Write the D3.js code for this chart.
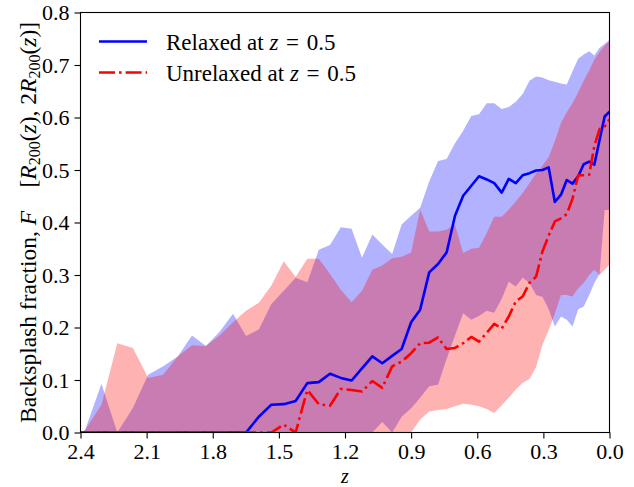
<!DOCTYPE html>
<html>
<head>
<meta charset="utf-8">
<script src="https://cdn.jsdelivr.net/npm/d3@7"></script>
<style>
  html, body { margin: 0; padding: 0; background: #fff; }
  svg { display: block; }
  text { font-family: "Liberation Serif", "Times New Roman", serif; fill: #000; }
</style>
</head>
<body>
<svg id="chart" width="634" height="487"></svg>
<script>
// Redshift grid (snapshots)
const zValues = [2.4, 2.379, 2.305, 2.233, 2.162, 2.093, 2.025, 1.959, 1.894, 1.831, 1.769, 1.708, 1.649, 1.591, 1.534, 1.478, 1.424, 1.371, 1.319, 1.268, 1.219, 1.170, 1.123, 1.076, 1.031, 0.986, 0.943, 0.900, 0.859, 0.818, 0.778, 0.739, 0.701, 0.664, 0.627, 0.592, 0.557, 0.523, 0.489, 0.457, 0.425, 0.394, 0.363, 0.333, 0.304, 0.276, 0.248, 0.220, 0.194, 0.168, 0.142, 0.117, 0.092, 0.069, 0.045, 0.022, 0.0];

// Relaxed at z = 0.5: median line and band
const relaxedMedian = [0, 0, 0, 0, 0, 0, 0, 0, 0, 0, 0, 0, 0, 0.030, 0.053, 0.054, 0.060, 0.094, 0.096, 0.112, 0.104, 0.099, 0.122, 0.145, 0.132, 0.146, 0.159, 0.210, 0.234, 0.305, 0.321, 0.343, 0.413, 0.451, 0.470, 0.488, 0.482, 0.475, 0.457, 0.483, 0.475, 0.490, 0.494, 0.499, 0.500, 0.505, 0.439, 0.453, 0.481, 0.474, 0.488, 0.511, 0.516, 0.510, 0.557, 0.602, 0.611];
const relaxedUpper = [0, 0.005, 0.093, 0.0, 0.047, 0.110, 0.126, 0.145, 0.185, 0.165, 0.192, 0.226, 0.184, 0.196, 0.245, 0.270, 0.295, 0.286, 0.348, 0.357, 0.391, 0.388, 0.333, 0.377, 0.358, 0.340, 0.396, 0.413, 0.428, 0.478, 0.517, 0.521, 0.551, 0.575, 0.603, 0.606, 0.627, 0.627, 0.616, 0.620, 0.630, 0.645, 0.670, 0.678, 0.676, 0.671, 0.668, 0.665, 0.663, 0.688, 0.712, 0.720, 0.726, 0.718, 0.733, 0.740, 0.748];
const relaxedLower = [0, 0, 0, 0, 0, 0, 0, 0, 0, 0, 0, 0, 0, 0, 0, 0, 0, 0, 0, 0, 0, 0, 0, 0.0, 0.020, 0.0, 0.030, 0.046, 0.066, 0.088, 0.091, 0.140, 0.185, 0.227, 0.215, 0.222, 0.232, 0.228, 0.255, 0.287, 0.278, 0.295, 0.285, 0.262, 0.258, 0.235, 0.202, 0.221, 0.215, 0.202, 0.235, 0.240, 0.262, 0.285, 0.302, 0.424, 0.424];

// Unrelaxed at z = 0.5: median line and band
const unrelaxedMedian = [0, 0, 0, 0, 0, 0, 0, 0, 0, 0, 0, 0, 0, 0, 0, 0.015, 0, 0.081, 0.054, 0.051, 0.083, 0.081, 0.078, 0.098, 0.085, 0.126, 0.135, 0.151, 0.170, 0.171, 0.181, 0.159, 0.161, 0.170, 0.182, 0.173, 0.190, 0.207, 0.198, 0.221, 0.250, 0.259, 0.285, 0.297, 0.345, 0.375, 0.402, 0.408, 0.416, 0.445, 0.490, 0.490, 0.491, 0.545, 0.578, 0.583, 0.596];
const unrelaxedUpper = [0, 0.005, 0.053, 0.170, 0.161, 0.104, 0.110, 0.145, 0.166, 0.165, 0.185, 0.210, 0.232, 0.247, 0.280, 0.326, 0.296, 0.331, 0.331, 0.302, 0.272, 0.248, 0.270, 0.310, 0.318, 0.332, 0.335, 0.343, 0.425, 0.383, 0.383, 0.386, 0.396, 0.342, 0.350, 0.352, 0.380, 0.411, 0.411, 0.425, 0.440, 0.456, 0.475, 0.494, 0.508, 0.525, 0.555, 0.590, 0.610, 0.627, 0.648, 0.670, 0.690, 0.710, 0.725, 0.737, 0.745];
const unrelaxedLower = [0, 0, 0, 0, 0, 0, 0, 0, 0, 0, 0, 0, 0, 0, 0, 0, 0, 0, 0, 0, 0, 0, 0, 0, 0, 0, 0, 0.0, 0.025, 0.040, 0.043, 0.045, 0.050, 0.055, 0.053, 0.050, 0.045, 0.037, 0.052, 0.066, 0.082, 0.095, 0.102, 0.125, 0.167, 0.195, 0.226, 0.262, 0.262, 0.259, 0.275, 0.285, 0.300, 0.310, 0.300, 0.310, 0.320];

const xTicks = [2.4, 2.1, 1.8, 1.5, 1.2, 0.9, 0.6, 0.3, 0.0];
const yTicks = [0.0, 0.1, 0.2, 0.3, 0.4, 0.5, 0.6, 0.7, 0.8];
const legendLabels = ["Relaxed at ", "Unrelaxed at "];

const margin = {left: 80.5, top: 12.5, right: 24.5, bottom: 54.5};
const W = 634, H = 487;
const iw = W - margin.left - margin.right;
const ih = H - margin.top - margin.bottom;

const svg = d3.select("#chart");
const g = svg.append("g").attr("transform", `translate(${margin.left},${margin.top})`);

const x = d3.scaleLinear().domain([2.4, 0.0]).range([0, iw]);
const y = d3.scaleLinear().domain([0, 0.8]).range([ih, 0]);

g.append("clipPath").attr("id", "clip").append("rect").attr("width", iw).attr("height", ih);
const plot = g.append("g").attr("clip-path", "url(#clip)");

const idx = d3.range(zValues.length);
const area = (lo, hi) => d3.area().x(i => x(zValues[i])).y0(i => y(lo[i])).y1(i => y(hi[i]));
const line = (v) => d3.line().x(i => x(zValues[i])).y(i => y(v[i]));

plot.append("path").datum(idx).attr("d", area(relaxedLower, relaxedUpper))
  .attr("fill", "#0000ff").attr("fill-opacity", 0.3).attr("stroke", "none");
plot.append("path").datum(idx).attr("d", area(unrelaxedLower, unrelaxedUpper))
  .attr("fill", "#ff0000").attr("fill-opacity", 0.3).attr("stroke", "none");

plot.append("path").datum(idx).attr("d", line(relaxedMedian))
  .attr("fill", "none").attr("stroke", "#0000ff").attr("stroke-width", 2.6).attr("stroke-linejoin", "round");
plot.append("path").datum(idx).attr("d", line(unrelaxedMedian))
  .attr("fill", "none").attr("stroke", "#ff0000").attr("stroke-width", 2.6)
  .attr("stroke-dasharray", "16,4,2.6,4").attr("stroke-linejoin", "round");

// Axes
const xAxis = g.append("g").attr("transform", `translate(0,${ih})`)
  .call(d3.axisBottom(x).tickValues(xTicks).tickFormat(d3.format(".1f")).tickSize(6).tickPadding(5).tickSizeOuter(0));
const yAxis = g.append("g")
  .call(d3.axisLeft(y).tickValues(yTicks).tickFormat(d3.format(".1f")).tickSize(6).tickPadding(5).tickSizeOuter(0));
[xAxis, yAxis].forEach(a => {
  a.select(".domain").remove();
  a.selectAll(".tick line").attr("stroke", "#000").attr("stroke-width", 1.1);
  a.selectAll(".tick text").attr("font-size", 22).attr("font-family", "Liberation Serif, serif");
});

g.append("rect").attr("width", iw).attr("height", ih)
  .attr("fill", "none").attr("stroke", "#000").attr("stroke-width", 1.1);

// Axis labels
svg.append("text").attr("x", margin.left + iw / 2).attr("y", 483)
  .attr("text-anchor", "middle").attr("font-size", 20).attr("font-style", "italic").text("z");

const yl = svg.append("text")
  .attr("transform", `translate(36,${margin.top + ih / 2}) rotate(-90)`)
  .attr("text-anchor", "middle").attr("font-size", 23.5);
yl.append("tspan").text("Backsplash fraction, ");
yl.append("tspan").attr("font-style", "italic").text("F");
yl.append("tspan").text("\u2003[");
yl.append("tspan").attr("font-style", "italic").text("R");
yl.append("tspan").attr("font-size", 16).attr("dy", 4).text("200");
yl.append("tspan").attr("dy", -4).text("(");
yl.append("tspan").attr("font-style", "italic").text("z");
yl.append("tspan").text("), 2");
yl.append("tspan").attr("font-style", "italic").text("R");
yl.append("tspan").attr("font-size", 16).attr("dy", 4).text("200");
yl.append("tspan").attr("dy", -4).text("(");
yl.append("tspan").attr("font-style", "italic").text("z");
yl.append("tspan").text(")]");

// Legend
const legend = svg.append("g");
const legColors = ["#0000ff", "#ff0000"];
const legDash = [null, "16,4,2.6,4"];
const legY = [41.5, 72.5];
legendLabels.forEach((lab, i) => {
  legend.append("line").attr("x1", 99).attr("x2", 147).attr("y1", legY[i]).attr("y2", legY[i])
    .attr("stroke", legColors[i]).attr("stroke-width", 2.6).attr("stroke-dasharray", legDash[i]);
  const t = legend.append("text").attr("x", 166).attr("y", legY[i] + 8.5).attr("font-size", 23);
  t.append("tspan").text(lab);
  t.append("tspan").attr("font-style", "italic").text("z");
  t.append("tspan").text("\u2004=\u20040.5");
});
</script>
</body>
</html>
